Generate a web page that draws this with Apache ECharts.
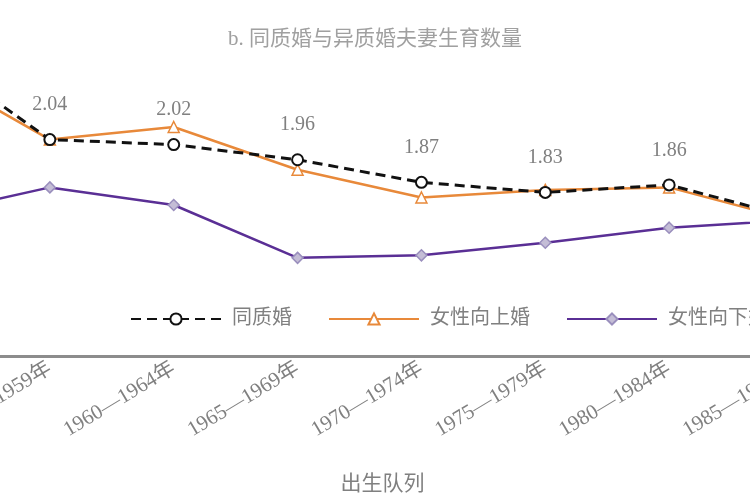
<!DOCTYPE html>
<html>
<head>
<meta charset="utf-8">
<script src="https://cdn.jsdelivr.net/npm/echarts@6/dist/echarts.min.js"></script>
<style>
  html, body { margin: 0; padding: 0; background: #fff; }
  #chart { width: 750px; height: 500px; }
</style>
</head>
<body>
<div id="chart"></div>
<script>
// birth cohorts (first and last sit just outside the visible area)
const cohorts = ['1950—1954年', '1955—1959年', '1960—1964年', '1965—1969年', '1970—1974年', '1975—1979年', '1980—1984年', '1985—1989年']
const homogamy = [2.39, 2.04, 2.02, 1.96, 1.87, 1.83, 1.86, 1.73]
const hypergamy = [2.32, 2.04, 2.09, 1.92, 1.81, 1.84, 1.85, 1.72]
const hypogamy = [1.74, 1.85, 1.78, 1.57, 1.58, 1.63, 1.69, 1.72]
const seriesNames = ['同质婚', '女性向上婚', '女性向下婚']

const serif = '"Liberation Serif", "Noto Sans CJK SC", serif'
const grey = '#808080'

var chartDom = document.getElementById('chart')
var myChart = echarts.init(chartDom)
var option

option = {
  animation: false,
  title: {
    text: 'b. 同质婚与异质婚夫妻生育数量',
    left: 'center',
    top: 24,
    textStyle: { fontFamily: serif, fontSize: 21, fontWeight: 'normal', color: '#a0a0a0' }
  },
  legend: {
    data: seriesNames,
    left: 125,
    top: 304,
    width: 1200,
    itemWidth: 90,
    itemHeight: 14,
    itemGap: 36,
    textStyle: { fontFamily: serif, fontSize: 20, color: grey, padding: [0, 0, 0, 6] }
  },
  grid: {
    left: -74,
    right: -43,
    top: 49,
    bottom: 144,
    outerBoundsMode: 'none'
  },
  xAxis: {
    type: 'category',
    data: cohorts,
    boundaryGap: false,
    name: '出生队列',
    nameLocation: 'middle',
    nameGap: 118,
    nameTextStyle: { fontFamily: serif, fontSize: 21, color: grey, padding: [0, 0, 0, 46] },
    axisLine: { lineStyle: { color: '#8c8c8c', width: 3 } },
    axisTick: { show: false },
    axisLabel: {
      rotate: 31,
      margin: 11,
      interval: 0,
      fontFamily: serif,
      fontSize: 21,
      color: grey
    }
  },
  yAxis: {
    type: 'value',
    show: false,
    min: 1.18,
    max: 2.4
  },
  series: [
    {
      name: '女性向下婚',
      type: 'line',
      data: hypogamy,
      symbol: 'diamond',
      symbolSize: 11,
      lineStyle: { color: '#5a2f95', width: 2.5 },
      itemStyle: { color: '#c4bdd6', borderColor: '#9a8fbd', borderWidth: 1.5 },
      z: 2
    },
    {
      name: '女性向上婚',
      type: 'line',
      data: hypergamy,
      symbol: 'triangle',
      symbolSize: 11,
      lineStyle: { color: '#e8893a', width: 2.5 },
      itemStyle: { color: '#fff', borderColor: '#e8893a', borderWidth: 1.5 },
      z: 3
    },
    {
      name: '同质婚',
      type: 'line',
      data: homogamy,
      symbol: 'emptyCircle',
      symbolSize: 11,
      lineStyle: { color: '#111', width: 3, type: [10, 6] },
      itemStyle: { color: '#111', borderColor: '#111', borderWidth: 2 },
      label: {
        show: true,
        position: 'top',
        distance: 18,
        fontFamily: serif,
        fontSize: 20,
        color: grey
      },
      z: 4
    }
  ]
}
option && myChart.setOption(option)
</script>
</body>
</html>
